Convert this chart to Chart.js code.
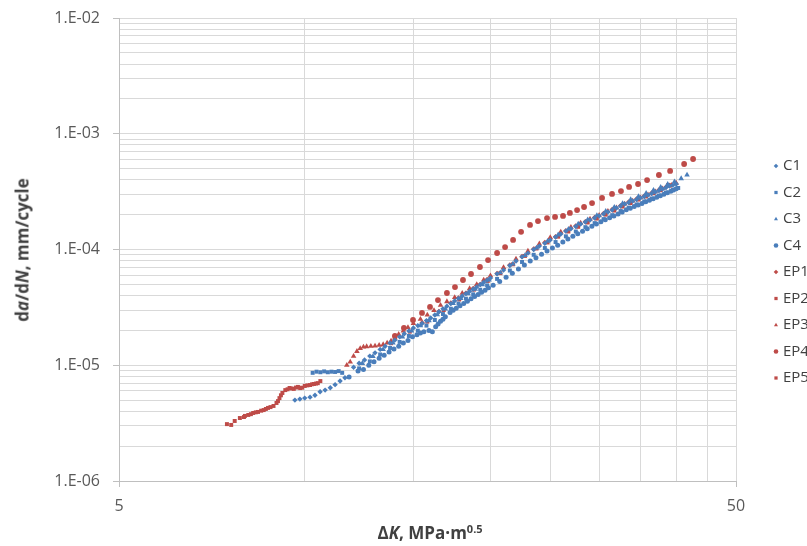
<!DOCTYPE html>
<html>
<head>
<meta charset="utf-8">
<script src="https://cdn.jsdelivr.net/npm/chart.js@4.4.1/dist/chart.umd.min.js"></script>
<style>
  html, body { margin: 0; padding: 0; background: #fff; }
  #wrap { position: relative; width: 807px; height: 546px; }
  #myChart { position: absolute; left: 0; top: 0; }
  .axTitle { position: absolute; font-family: "Open Sans", sans-serif; font-weight: bold; font-size: 17px; color: #404040; white-space: nowrap; }
  #xTitle { left: 430px; top: 532px; transform: translate(-50%, -50%); }
  #yTitle { left: 22px; top: 250px; transform: translate(-50%, -50%) rotate(-90deg); }
  sup { font-size: 11px; vertical-align: 6px; line-height: 0; }
</style>
</head>
<body>
<div id="wrap">
  <canvas id="myChart" width="807" height="546"></canvas>
  <div class="axTitle" id="xTitle">Δ<i>K</i>, MPa·m<sup>0.5</sup></div>
  <div class="axTitle" id="yTitle">d<i>a</i>/d<i>N</i>, mm/cycle</div>
</div>
<script>
// axis ticks
const xGrid = [5, 10, 15, 20, 25, 30, 35, 40, 45, 50];
const xLabels = {5: '5', 50: '50'};
const yDecades = [1e-6, 1e-5, 1e-4, 1e-3, 1e-2];
const yLabels = ['1.E-06', '1.E-05', '1.E-04', '1.E-03', '1.E-02'];

const seriesNames = ['C1', 'C2', 'C3', 'C4', 'EP1', 'EP2', 'EP3', 'EP4', 'EP5'];

// [dK (MPa m^0.5), da/dN (mm/cycle)]
const C1 = [[9.64,5.0e-6],[9.82,5.1e-6],[10.0,5.2e-6],[10.2,5.3e-6],[10.39,5.5e-6],[10.59,5.9e-6],[10.79,6.1e-6],[11.0,6.4e-6],[11.2,6.8e-6],[11.41,7.3e-6],[11.62,7.8e-6],
  [12,9.6e-6],[12.25,1.04e-5],[12.5,1.11e-5],[12.75,1.2e-5],[13,1.28e-5],[13.25,1.37e-5],[13.5,1.46e-5],[13.75,1.56e-5],[14,1.65e-5],[14.25,1.76e-5],[14.5,1.87e-5],[14.75,1.98e-5],[15,2.1e-5],[15.25,2.2e-5],[15.5,2.3e-5],[15.75,2.43e-5],
  [16,2.56e-5],[16.25,2.72e-5],[16.5,2.9e-5],[16.75,3.07e-5],[17,3.24e-5],[17.25,3.41e-5],[17.5,3.6e-5],[17.75,3.78e-5],[18,3.96e-5],[18.25,4.16e-5],[18.5,4.35e-5],[18.75,4.54e-5],[19,4.75e-5],[19.25,4.97e-5],[19.5,5.2e-5],[19.75,5.43e-5],[20,5.67e-5],
  [20.5,6.16e-5],[21,6.65e-5],[21.5,7.28e-5],[22,7.95e-5],[22.5,8.63e-5],[23,9.3e-5],[23.5,1.0e-4],[24,1.07e-4],[24.5,1.13e-4],[25,1.21e-4],[25.5,1.28e-4],[26,1.36e-4],[26.5,1.44e-4],[27,1.51e-4],[27.5,1.58e-4],[28,1.66e-4],[28.5,1.73e-4],[29,1.8e-4],[29.5,1.87e-4],
  [30,1.95e-4],[30.5,2.03e-4],[31,2.11e-4],[31.5,2.19e-4],[32,2.28e-4],[32.5,2.37e-4],[33,2.47e-4],[33.5,2.55e-4],[34,2.62e-4],[34.5,2.7e-4],[35,2.79e-4],[35.5,2.87e-4],[36,2.95e-4],[36.5,3.05e-4],[37,3.14e-4],[37.5,3.23e-4],[38,3.33e-4],[38.5,3.43e-4],[39,3.54e-4],[39.5,3.6e-4],[40,3.68e-4]];
const C2 = [[10.3,8.6e-6],[10.45,8.8e-6],[10.6,8.7e-6],[10.75,8.85e-6],[10.9,8.7e-6],[11.05,8.8e-6],[11.2,8.75e-6],[11.35,8.9e-6],[11.5,8.6e-6],
  [12.25,9.4e-6],[12.75,1.08e-5],[13.25,1.24e-5],[13.75,1.41e-5],[14.25,1.59e-5],[14.75,1.79e-5],[15.25,1.99e-5],[15.75,2.2e-5],[16.25,2.46e-5],[16.75,2.77e-5],[17.25,3.08e-5],[17.75,3.41e-5],[18.25,3.76e-5],[18.75,4.1e-5],[19.25,4.49e-5],[19.75,4.9e-5],
  [20.5,5.57e-5],[21.5,6.58e-5],[22.5,7.8e-5],[23.5,9.0e-5],[24.5,1.03e-4],[25.5,1.16e-4],[26.5,1.3e-4],[27.5,1.43e-4],[28.5,1.56e-4],[29.5,1.69e-4],[30.5,1.83e-4],[31.5,1.98e-4],[32.5,2.15e-4],[33.5,2.3e-4],[34.5,2.45e-4],[35.5,2.6e-4],[36.5,2.75e-4],[37.5,2.92e-4],[38.5,3.1e-4],[39.5,3.26e-4],[40.3,3.4e-4]];
const C3 = [[12.4,1.04e-5],[12.9,1.19e-5],[13.4,1.37e-5],[13.9,1.56e-5],[14.4,1.76e-5],[14.9,1.98e-5],[15.4,2.2e-5],[15.9,2.43e-5],[16.4,2.74e-5],[16.9,3.07e-5],[17.4,3.42e-5],[17.9,3.78e-5],[18.4,4.15e-5],[18.9,4.55e-5],[19.4,4.98e-5],[19.9,5.45e-5],
  [20.75,6.3e-5],[21.75,7.5e-5],[22.75,8.9e-5],[23.75,1.03e-4],[24.75,1.18e-4],[25.75,1.34e-4],[26.75,1.5e-4],[27.75,1.66e-4],[28.75,1.81e-4],[29.75,1.97e-4],[30.75,2.14e-4],[31.75,2.32e-4],[32.75,2.5e-4],[33.75,2.7e-4],[34.75,2.88e-4],[35.75,3.06e-4],[36.75,3.25e-4],[37.75,3.45e-4],[38.75,3.66e-4],[39.75,3.86e-4],[40.75,4.1e-4],[41.65,4.4e-4]];
const C4 = [[11.8,7.9e-6],[12.2,8.9e-6],[12.45,9.2e-6],[12.7,1.0e-5],[12.95,1.07e-5],[13.2,1.15e-5],[13.45,1.22e-5],[13.7,1.3e-5],[13.95,1.38e-5],[14.2,1.46e-5],[14.45,1.56e-5],[14.7,1.64e-5],[14.95,1.76e-5],[15.2,1.83e-5],[15.4,1.9e-5],[15.6,1.95e-5],[15.9,2.0e-5],[16.1,1.95e-5],
  [16.3,2.15e-5],[16.45,2.27e-5],[16.6,2.4e-5],[16.75,2.5e-5],[16.9,2.62e-5],[17.2,2.85e-5],[17.4,2.98e-5],[17.6,3.1e-5],[17.85,3.27e-5],[18.1,3.42e-5],[18.35,3.58e-5],[18.6,3.75e-5],[18.85,3.92e-5],[19.1,4.08e-5],[19.35,4.27e-5],[19.6,4.45e-5],[19.85,4.68e-5],
  [20.2,4.9e-5],[20.7,5.3e-5],[21.2,5.75e-5],[21.7,6.25e-5],[22.2,6.8e-5],[22.7,7.35e-5],[23.2,7.95e-5],[23.7,8.5e-5],[24.2,9.1e-5],[24.7,9.7e-5],[25.2,1.03e-4],[25.7,1.09e-4],[26.2,1.16e-4],[26.7,1.23e-4],[27.2,1.3e-4],[27.7,1.37e-4],[28.2,1.44e-4],[28.7,1.51e-4],[29.2,1.59e-4],[29.7,1.66e-4],
  [30.2,1.74e-4],[30.7,1.81e-4],[31.2,1.88e-4],[31.7,1.95e-4],[32.2,2.03e-4],[32.7,2.11e-4],[33.2,2.2e-4],[33.7,2.27e-4],[34.2,2.35e-4],[34.7,2.42e-4],[35.2,2.5e-4],[35.7,2.58e-4],[36.2,2.66e-4],[36.7,2.74e-4],[37.2,2.83e-4],[37.7,2.91e-4],[38.2,3.0e-4],[38.7,3.09e-4],[39.2,3.18e-4],[39.6,3.26e-4],[40.0,3.35e-4]];
const EP1 = [[15.5,2.33e-5],[16.5,2.92e-5],[17.25,3.45e-5],[17.75,3.82e-5],[18.25,4.2e-5],[18.75,4.6e-5],[19.25,5.0e-5],[19.75,5.5e-5],[20.5,6.2e-5],[21.5,7.35e-5],[22.5,8.7e-5],[23.5,1.01e-4],[24.5,1.15e-4],[25.5,1.29e-4],[26.5,1.45e-4],[27.5,1.6e-4],[28.5,1.74e-4],[29.5,1.89e-4],[30.5,2.05e-4],[31.5,2.22e-4],[32.5,2.39e-4],[33.5,2.57e-4],[34.5,2.73e-4],[35.5,2.9e-4],[36.5,3.08e-4],[37.5,3.27e-4],[38.5,3.46e-4],[39.3,3.62e-4]];
const EP2 = [[7.48,3.1e-6],[7.6,3.05e-6],[7.7,3.3e-6],[7.85,3.5e-6],[7.97,3.57e-6],[8.0,3.65e-6],[8.1,3.72e-6],[8.18,3.78e-6],[8.25,3.87e-6],[8.33,3.92e-6],[8.4,3.95e-6],[8.5,4.05e-6],[8.58,4.1e-6],[8.65,4.19e-6],[8.72,4.28e-6],[8.8,4.35e-6],[8.9,4.45e-6],[9.0,4.72e-6],[9.05,4.9e-6],[9.1,5.2e-6],[9.15,5.5e-6],[9.2,5.76e-6],[9.3,6.1e-6],[9.38,6.2e-6],[9.45,6.36e-6],[9.52,6.3e-6],[9.6,6.25e-6],[9.68,6.42e-6],[9.75,6.5e-6],[9.83,6.35e-6],[9.9,6.4e-6],[10.0,6.62e-6],[10.1,6.7e-6],[10.2,6.75e-6],[10.28,6.85e-6],[10.35,6.89e-6],[10.43,6.95e-6],[10.5,7.0e-6],[10.6,7.3e-6]];
const EP3 = [[11.7,1.0e-5],[11.85,1.07e-5],[12.0,1.2e-5],[12.15,1.32e-5],[12.3,1.4e-5],[12.45,1.44e-5],[12.6,1.45e-5],[12.8,1.46e-5],[13.0,1.47e-5],[13.2,1.49e-5],[13.4,1.51e-5],[13.6,1.56e-5],[13.8,1.62e-5],[14.0,1.72e-5],[14.2,1.85e-5],[14.45,1.98e-5],[14.7,2.12e-5],[15.0,2.3e-5],[15.4,2.5e-5],[15.8,2.72e-5],[16.2,2.98e-5],[16.6,3.3e-5],[17.0,3.55e-5],[17.5,3.85e-5],[18.0,4.2e-5],[18.5,4.6e-5],[19.0,5.0e-5],[19.5,5.45e-5],
  [20,5.95e-5],[21,7.0e-5],[22,8.3e-5],[23,9.7e-5],[24,1.12e-4],[25,1.27e-4],[26,1.42e-4],[27,1.56e-4],[28,1.7e-4],[29,1.84e-4],[30,1.98e-4],[31,2.14e-4],[32,2.3e-4],[33,2.48e-4],[34,2.63e-4],[35,2.8e-4],[36,2.97e-4],[37,3.16e-4],[38,3.35e-4],[39,3.55e-4],[40,3.75e-4]];
const EP4 = [[14.0,1.79e-5],[14.48,2.1e-5],[14.98,2.46e-5],[15.49,2.83e-5],[15.96,3.19e-5],[16.44,3.66e-5],[17.0,4.21e-5],[17.52,4.74e-5],[18.05,5.45e-5],[18.6,6.14e-5],[19.23,7.06e-5],[19.82,8.11e-5],[20.5,9.33e-5],[21.12,1.05e-4],[21.76,1.21e-4],[22.42,1.42e-4],[23.18,1.63e-4],[23.88,1.76e-4],[24.7,1.87e-4],[25.45,1.91e-4],[26.22,1.95e-4],[26.9,2.07e-4],[27.63,2.19e-4],[28.36,2.33e-4],[29.22,2.52e-4],[30.33,2.79e-4],[31.48,3.02e-4],[32.55,3.2e-4],[33.55,3.47e-4],[34.69,3.68e-4],[35.88,3.98e-4],[37.5,4.4e-4],[39.1,4.77e-4],[41.2,5.48e-4],[42.6,6.05e-4]];
const EP5 = [[13.8,1.55e-5],[14.8,1.95e-5],[15.8,2.38e-5],[16.8,3.0e-5],[17.8,3.7e-5],[18.8,4.5e-5],[19.8,5.35e-5],[20.75,6.25e-5],[21.75,7.45e-5],[22.75,8.8e-5],[23.75,1.02e-4],[24.75,1.15e-4],[25.75,1.29e-4],[26.75,1.43e-4],[27.75,1.57e-4],[28.75,1.71e-4],[29.75,1.85e-4],[30.75,2.0e-4],[31.75,2.17e-4],[32.75,2.35e-4],[33.75,2.52e-4],[34.75,2.7e-4],[35.75,2.87e-4],[36.75,3.06e-4],[37.75,3.25e-4],[38.8,3.6e-4]];

const blue = '#4a7ebb';
const red = '#be4b48';

function isDecade(v) {
  const l = Math.log10(v);
  return Math.abs(l - Math.round(l)) < 1e-6;
}

function makeSet(label, pts, color, style, r) {
  return {
    label: label,
    data: pts.map(p => ({x: p[0], y: p[1]})),
    pointStyle: style,
    pointRadius: r,
    pointHoverRadius: r,
    backgroundColor: color,
    borderColor: color,
    borderWidth: 0,
    showLine: false
  };
}

// y gridlines at 1..9 of each decade
const yGrid = [];
for (let i = 0; i < yDecades.length - 1; i++) {
  for (let m = 1; m < 10; m++) yGrid.push(m * yDecades[i]);
}
yGrid.push(yDecades[yDecades.length - 1]);

// legend column at the right, like the picture
const sideLegend = {
  id: 'sideLegend',
  afterDraw(chart) {
    const ctx = chart.ctx;
    ctx.save();
    ctx.textBaseline = 'middle';
    ctx.font = '15px "Open Sans"';
    chart.data.datasets.forEach((d, i) => {
      const y = 166 + i * 26.5;
      ctx.fillStyle = d.backgroundColor;
      Chart.helpers.drawPoint(ctx, {pointStyle: d.pointStyle, radius: 2.3, rotation: 0, borderWidth: 0}, 776, y);
      ctx.fillStyle = '#404040';
      ctx.fillText(d.label, 783, y);
    });
    ctx.restore();
  }
};

function initialize() {
  const ctx = document.getElementById('myChart').getContext('2d');
  const myChart = new Chart(ctx, {
    type: 'scatter',
    data: {
      datasets: [
        makeSet(seriesNames[0], C1, blue, 'rectRot', 2.7),
        makeSet(seriesNames[1], C2, blue, 'rect', 2.8),
        makeSet(seriesNames[2], C3, blue, 'triangle', 3.2),
        makeSet(seriesNames[3], C4, blue, 'circle', 2.5),
        makeSet(seriesNames[4], EP1, red, 'rectRot', 2.7),
        makeSet(seriesNames[5], EP2, red, 'rect', 2.8),
        makeSet(seriesNames[6], EP3, red, 'triangle', 3.2),
        makeSet(seriesNames[7], EP4, red, 'circle', 2.9),
        makeSet(seriesNames[8], EP5, red, 'rect', 2.8)
      ]
    },
    plugins: [sideLegend],
    options: {
      responsive: false,
      animation: false,
      layout: { padding: { top: 18, right: 71, bottom: 0, left: 0 } },
      plugins: {
        tooltip: { enabled: false },
        legend: { display: false }
      },
      scales: {
        x: {
          type: 'logarithmic',
          min: 5,
          max: 50,
          afterBuildTicks: s => { s.ticks = xGrid.map(v => ({value: v})); },
          afterFit: s => { s.height = 65; s.paddingLeft = 0; s.paddingRight = 0; },
          ticks: {
            autoSkip: false,
            maxRotation: 0,
            padding: 10,
            color: '#595959',
            font: { family: 'Open Sans', size: 16 },
            callback: v => xLabels[Math.round(v)] || ''
          },
          grid: {
            color: '#d9d9d9',
            tickLength: 6,
            tickColor: c => (c.tick && xLabels[Math.round(c.tick.value)]) ? '#bfbfbf' : 'transparent'
          },
          border: { color: '#bfbfbf' }
        },
        y: {
          type: 'logarithmic',
          min: 1e-6,
          max: 1e-2,
          afterBuildTicks: s => { s.ticks = yGrid.map(v => ({value: v})); },
          afterFit: s => { s.width = 119; s.paddingTop = 0; s.paddingBottom = 0; },
          ticks: {
            autoSkip: false,
            padding: 13,
            color: '#595959',
            font: { family: 'Open Sans', size: 16 },
            callback: v => isDecade(v) ? yLabels[Math.round(Math.log10(v)) + 6] : ''
          },
          grid: {
            color: '#d9d9d9',
            tickLength: 6,
            tickColor: c => (c.tick && isDecade(c.tick.value)) ? '#bfbfbf' : 'transparent'
          },
          border: { color: '#bfbfbf' }
        }
      }
    }
  });
}
initialize();
</script>
</body>
</html>
